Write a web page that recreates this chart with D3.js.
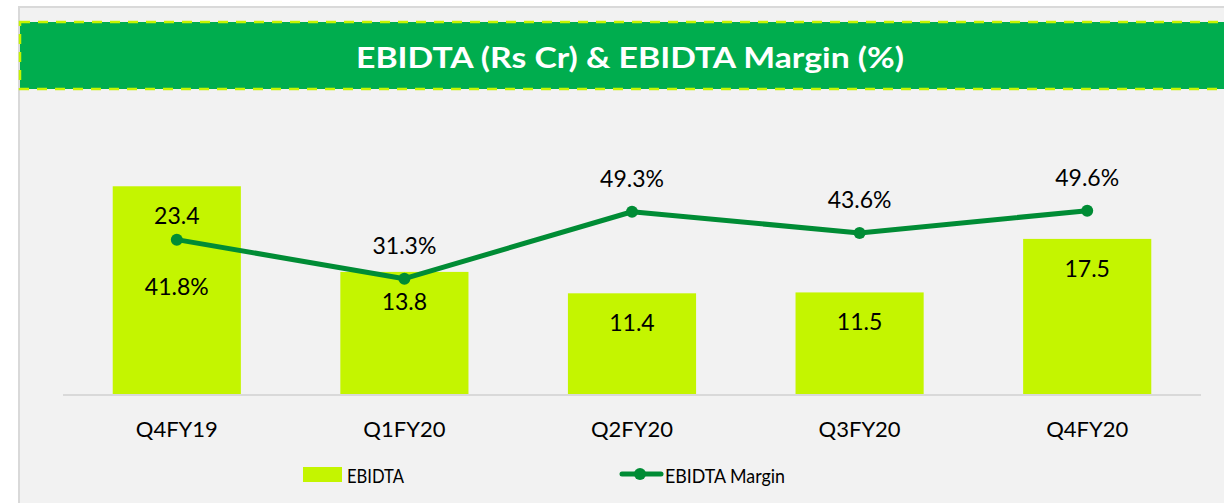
<!DOCTYPE html>
<html>
<head>
<meta charset="utf-8">
<script src="https://cdn.jsdelivr.net/npm/d3@7"></script>
<style>
  html, body { margin: 0; padding: 0; background: #ffffff; }
  svg { display: block; font-family: Lato, "Open Sans", sans-serif; }
</style>
</head>
<body>
<svg id="chart" width="1224" height="503"></svg>
<script>
// data
const quarters = ["Q4FY19", "Q1FY20", "Q2FY20", "Q3FY20", "Q4FY20"];
const ebidta = [23.4, 13.8, 11.4, 11.5, 17.5];
const margin = [41.8, 31.3, 49.3, 43.6, 49.6];
const marginLabelBelow = [true, false, false, false, false];
const titleText = "EBIDTA (Rs Cr) & EBIDTA Margin (%)";
const legendNames = ["EBIDTA", "EBIDTA Margin"];

let svg = d3.select("#chart");

// panel
svg.append("rect")
  .attr("x", 19).attr("y", 7)
  .attr("width", 1224).attr("height", 520)
  .attr("fill", "#f2f2f2")
  .attr("stroke", "#d9d9d9")
  .attr("stroke-width", 2);

// title bar
svg.append("rect")
  .attr("x", 20).attr("y", 22)
  .attr("width", 1240).attr("height", 67)
  .attr("fill", "#00ad4e")
  .attr("stroke", "#c6f400")
  .attr("stroke-width", 2.5)
  .attr("stroke-dasharray", "10,8");

svg.append("text")
  .attr("x", 630).attr("y", 56)
  .attr("text-anchor", "middle")
  .attr("dominant-baseline", "central")
  .attr("fill", "#ffffff")
  .attr("font-weight", "bold")
  .attr("font-size", 29)
  .attr("textLength", 548)
  .attr("lengthAdjust", "spacingAndGlyphs")
  .text(titleText);

let xScale = d3.scaleBand()
  .domain(quarters)
  .range([63, 1201])
  .paddingInner(0.437)
  .paddingOuter(0.2185);

let yBar = d3.scaleLinear().domain([0, 25]).range([395, 172]);
let yLine = d3.scaleLinear().domain([0, 60]).range([395, 172]);

// bars
svg.append("g").selectAll("rect")
  .data(ebidta)
  .enter().append("rect")
  .attr("x", function(d, i) { return xScale(quarters[i]); })
  .attr("y", function(d) { return yBar(d); })
  .attr("width", xScale.bandwidth())
  .attr("height", function(d) { return yBar(0) - yBar(d); })
  .attr("fill", "#c4f500");

// category axis
let xAxis = svg.append("g")
  .attr("transform", "translate(0,395)")
  .call(d3.axisBottom(xScale).tickSize(0).tickPadding(26));
xAxis.select(".domain").attr("stroke", "#d9d9d9").attr("stroke-width", 2)
  .attr("d", "M63,0H1201");
xAxis.selectAll("text")
  .attr("font-family", "Lato, 'Open Sans', sans-serif")
  .attr("font-size", 22)
  .attr("fill", "#000");

// bar labels
svg.append("g").selectAll("text")
  .data(ebidta)
  .enter().append("text")
  .attr("x", function(d, i) { return xScale(quarters[i]) + xScale.bandwidth() / 2; })
  .attr("y", function(d) { return yBar(d) + 29; })
  .attr("text-anchor", "middle")
  .attr("dominant-baseline", "central")
  .attr("font-size", 23)
  .attr("fill", "#000")
  .text(function(d) { return d.toFixed(1); });

// margin line
let cx = function(d, i) { return xScale(quarters[i]) + xScale.bandwidth() / 2; };
let marginLine = d3.line()
  .x(cx)
  .y(function(d) { return yLine(d); });

svg.append("path")
  .datum(margin)
  .attr("d", marginLine)
  .attr("fill", "none")
  .attr("stroke", "#008c35")
  .attr("stroke-width", 5)
  .attr("stroke-linejoin", "round");

svg.append("g").selectAll("circle")
  .data(margin)
  .enter().append("circle")
  .attr("cx", cx)
  .attr("cy", function(d) { return yLine(d); })
  .attr("r", 6)
  .attr("fill", "#008c35");

svg.append("g").selectAll("text")
  .data(margin)
  .enter().append("text")
  .attr("x", cx)
  .attr("y", function(d, i) { return yLine(d) + (marginLabelBelow[i] ? 46 : -34); })
  .attr("text-anchor", "middle")
  .attr("dominant-baseline", "central")
  .attr("font-size", 23)
  .attr("fill", "#000")
  .text(function(d) { return d.toFixed(1) + "%"; });

// legend
let legend = svg.append("g");
legend.append("rect")
  .attr("x", 303).attr("y", 467)
  .attr("width", 39).attr("height", 15)
  .attr("fill", "#c4f500");
legend.append("text")
  .attr("x", 347).attr("y", 475)
  .attr("dominant-baseline", "central")
  .attr("font-size", 20)
  .attr("textLength", 57)
  .attr("lengthAdjust", "spacingAndGlyphs")
  .attr("fill", "#000")
  .text(legendNames[0]);

legend.append("line")
  .attr("x1", 622).attr("x2", 661)
  .attr("y1", 474).attr("y2", 474)
  .attr("stroke", "#008c35")
  .attr("stroke-width", 5)
  .attr("stroke-linecap", "round");
legend.append("circle")
  .attr("cx", 640).attr("cy", 474).attr("r", 6)
  .attr("fill", "#008c35");
legend.append("text")
  .attr("x", 665).attr("y", 475)
  .attr("dominant-baseline", "central")
  .attr("font-size", 20)
  .attr("textLength", 120)
  .attr("lengthAdjust", "spacingAndGlyphs")
  .attr("fill", "#000")
  .text(legendNames[1]);
</script>
</body>
</html>
